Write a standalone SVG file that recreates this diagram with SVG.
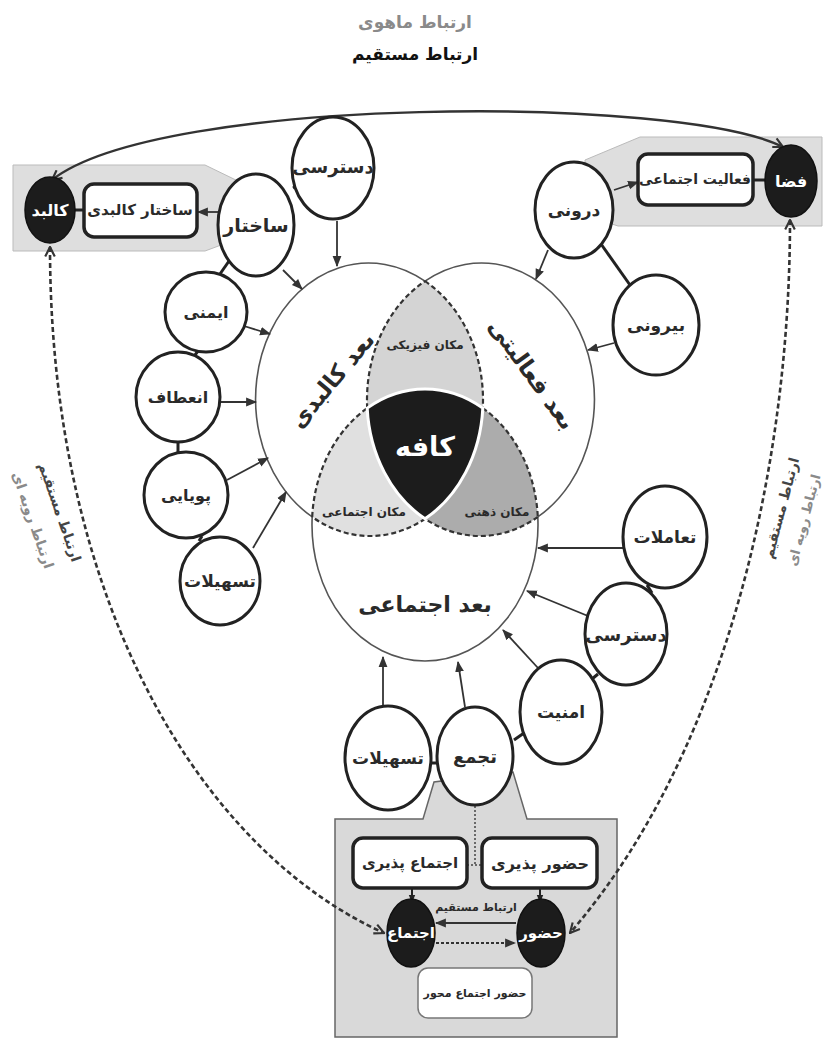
<svg xmlns="http://www.w3.org/2000/svg" width="825" height="1038" viewBox="0 0 825 1038">
<style>
.nd{fill:#fff;stroke:#222;stroke-width:3}
.bx{fill:#fff;stroke:#222;stroke-width:3.5}
.dk{fill:#1c1c1c;stroke:#111;stroke-width:1.5}
.lb{font-family:"DejaVu Sans","Noto Sans",sans-serif;font-weight:bold;text-anchor:middle;dominant-baseline:central;fill:#2a2a2a}
.ar{stroke:#333;stroke-width:1.8;fill:none;marker-end:url(#ah)}
.ln{stroke:#222;stroke-width:3;fill:none}
.dash{stroke:#333;stroke-width:2.2;stroke-dasharray:5 3;fill:none}
.ldash{stroke:#333;stroke-width:2.6;stroke-dasharray:5 3;fill:none;marker-start:url(#av);marker-end:url(#av)}
.out{stroke:#555;stroke-width:1.6;fill:none}
.gr{fill:#dedede;stroke:#bbb;stroke-width:1}
</style>
<defs>
<marker id="ah" viewBox="0 0 10 10" refX="9" refY="5" markerWidth="11" markerHeight="11" markerUnits="userSpaceOnUse" orient="auto"><path d="M0,1 L10,5 L0,9 z" fill="#333"/></marker>
<marker id="av" viewBox="0 0 10 10" refX="9" refY="5" markerWidth="12" markerHeight="12" markerUnits="userSpaceOnUse" orient="auto-start-reverse"><path d="M1,1 L9,5 L1,9" fill="none" stroke="#333" stroke-width="1.8"/></marker>
<marker id="as" viewBox="0 0 10 10" refX="5" refY="5" markerWidth="8" markerHeight="8" markerUnits="userSpaceOnUse" orient="auto"><path d="M0,1 L10,5 L0,9 z" fill="#222"/></marker>
</defs>
<rect width="825" height="1038" fill="#fff"/>

<!-- gray bands -->
<polygon class="gr" points="13,165 205,165 240,182 240,238 205,251 13,251"/>
<polygon class="gr" points="822,137 640,137 585,160 585,215 618,226 822,226"/>
<polygon fill="#d9d9d9" stroke="#666" stroke-width="1.5" points="434,782 423,819 335,819 335,1037 617,1037 617,819 527,819 513,772"/>

<!-- titles -->
<text class="lb" x="415" y="22" font-size="17" style="fill:#8a8a8a">ارتباط ماهوی</text>
<text class="lb" x="415" y="54" font-size="17" style="fill:#111">ارتباط مستقیم</text>

<!-- Venn -->
<g id="venn">
<ellipse cx="370" cy="400" rx="113" ry="136" fill="#fff"/>
<ellipse cx="480" cy="400" rx="113" ry="136" fill="#fff"/>
<ellipse cx="425" cy="525" rx="113" ry="136" fill="#fff"/>
<path d="M425,281.2 A113,136 0 0 1 482.8,408.1 A113,136 0 0 0 367.2,408.1 A113,136 0 0 1 425,281.2 Z" fill="#d4d4d4"/>
<path d="M312.2,516.9 A113,136 0 0 1 367.2,408.1 A113,136 0 0 0 425,518.8 A113,136 0 0 1 312.2,516.9 Z" fill="#e0e0e0"/>
<path d="M482.8,408.1 A113,136 0 0 1 537.8,516.9 A113,136 0 0 1 425,518.8 A113,136 0 0 0 482.8,408.1 Z" fill="#acacac"/>
<path class="out" d="M425,281.2 A113,136 0 1 0 312.2,516.9"/>
<path class="out" d="M425,281.2 A113,136 0 1 1 537.8,516.9"/>
<path class="out" d="M312.2,516.9 A113,136 0 1 0 537.8,516.9"/>
<path class="dash" d="M425,281.2 A113,136 0 0 1 482.8,408.1"/>
<path class="dash" d="M367.2,408.1 A113,136 0 0 1 425,281.2"/>
<path class="dash" d="M312.2,516.9 A113,136 0 0 1 367.2,408.1"/>
<path class="dash" d="M425,518.8 A113,136 0 0 1 312.2,516.9"/>
<path class="dash" d="M482.8,408.1 A113,136 0 0 1 537.8,516.9"/>
<path class="dash" d="M537.8,516.9 A113,136 0 0 1 425,518.8"/>
<path d="M367.2,408.1 A113,136 0 0 1 482.8,408.1 A113,136 0 0 1 425,518.8 A113,136 0 0 1 367.2,408.1 Z" fill="#1c1c1c" stroke="#fff" stroke-width="3"/>
<text class="lb" x="425" y="446" font-size="27" style="fill:#fff">کافه</text>
<text class="lb" x="425" y="345" font-size="12">مکان فیزیکی</text>
<text class="lb" x="364" y="512" font-size="12">مکان اجتماعی</text>
<text class="lb" x="497" y="512" font-size="12">مکان ذهنی</text>
<text class="lb" font-size="23" transform="translate(332,380) rotate(-50)">بعد کالبدی</text>
<text class="lb" font-size="23" transform="translate(532,374) rotate(54)">بعد فعالیتی</text>
<text class="lb" x="425" y="604" font-size="22">بعد اجتماعی</text>
</g>

<!-- connectors -->
<g id="connectors">
<path d="M52,180 C160,95 680,95 783,147" stroke="#333" stroke-width="2.4" fill="none" marker-start="url(#av)" marker-end="url(#av)"/>
<path class="ldash" d="M50,247 C50,600 200,850 384,933"/>
<path class="ldash" d="M790,220 C790,480 720,760 570,933"/>
<line class="ln" x1="75" y1="210" x2="84" y2="210"/>
<line class="ln" x1="753" y1="180" x2="765" y2="180"/>
<line class="ar" x1="218" y1="212" x2="198" y2="212"/>
<line class="ar" x1="614" y1="190" x2="638" y2="182"/>
<line class="ar" x1="337" y1="221" x2="337" y2="266"/>
<line class="ar" x1="283" y1="270" x2="302" y2="289"/>
<line class="ar" x1="244" y1="326" x2="270" y2="334"/>
<line class="ar" x1="220" y1="402" x2="256" y2="402"/>
<line class="ar" x1="227" y1="480" x2="268" y2="458"/>
<line class="ar" x1="253" y1="548" x2="286" y2="492"/>
<line class="ar" x1="548" y1="250" x2="536" y2="279"/>
<line class="ar" x1="614" y1="343" x2="588" y2="350"/>
<line class="ar" x1="623" y1="548" x2="538" y2="548"/>
<line class="ar" x1="588" y1="616" x2="527" y2="591"/>
<line class="ar" x1="538" y1="668" x2="503" y2="630"/>
<line class="ar" x1="383" y1="707" x2="383" y2="657"/>
<line class="ar" x1="465" y1="707" x2="458" y2="662"/>
<line class="ln" x1="293" y1="188" x2="300" y2="184"/>
<line class="ln" x1="229" y1="261" x2="220" y2="274"/>
<line class="ln" x1="198" y1="351" x2="195" y2="355"/>
<line class="ln" x1="178" y1="441" x2="178" y2="453"/>
<line class="ln" x1="202" y1="536" x2="199" y2="541"/>
<line class="ln" x1="601" y1="244" x2="630" y2="285"/>
<line class="ln" x1="647" y1="585" x2="652" y2="593"/>
<line class="ln" x1="592" y1="679" x2="598" y2="674"/>
<line class="ln" x1="514" y1="740" x2="524" y2="733"/>
<line class="ln" x1="430" y1="763" x2="438" y2="763"/>
<path d="M475,806 L475,865 M467,865 L483,865" stroke="#444" stroke-width="1.5" stroke-dasharray="2 2" fill="none"/>
<line x1="412" y1="888" x2="412" y2="899" stroke="#222" stroke-width="2" marker-end="url(#as)"/>
<line x1="540" y1="888" x2="540" y2="899" stroke="#222" stroke-width="2" marker-end="url(#as)"/>
<line class="ar" x1="516" y1="923" x2="436" y2="923"/>
<line x1="436" y1="943" x2="515" y2="943" stroke="#333" stroke-width="2" stroke-dasharray="3 2" marker-end="url(#ah)"/>
<text class="lb" x="476" y="907" font-size="11">ارتباط مستقیم</text>
<text class="lb" font-size="14" style="fill:#444" transform="translate(60,512) rotate(71)">ارتباط مستقیم</text>
<text class="lb" font-size="14" style="fill:#8a8a8a" transform="translate(33,520) rotate(71)">ارتباط رویه ای</text>
<text class="lb" font-size="14" style="fill:#444" transform="translate(781,508) rotate(-75)">ارتباط مستقیم</text>
<text class="lb" font-size="13" style="fill:#8a8a8a" transform="translate(804,520) rotate(-75)">ارتباط رویه ای</text>
</g>

<!-- nodes -->
<g id="n-kalbad"><ellipse class="dk" cx="50" cy="210" rx="25" ry="33"/><text class="lb" x="50" y="210" font-size="16" style="fill:#fff">کالبد</text></g>
<g id="n-faza"><ellipse class="dk" cx="791" cy="181" rx="26" ry="36"/><text class="lb" x="791" y="181" font-size="16" style="fill:#fff">فضا</text></g>
<g id="n-sakhtar-kalbadi"><rect class="bx" x="84" y="184" width="113" height="53" rx="10"/><text class="lb" x="140" y="210" font-size="15">ساختار کالبدی</text></g>
<g id="n-faaliat"><rect class="bx" x="638" y="154" width="115" height="51" rx="10"/><text class="lb" x="695" y="179" font-size="14">فعالیت اجتماعی</text></g>
<g id="n-dastresi1"><ellipse class="nd" cx="333" cy="168" rx="41" ry="51"/><text class="lb" x="333" y="166" font-size="18">دسترسی</text></g>
<g id="n-sakhtar"><ellipse class="nd" cx="256" cy="225" rx="38" ry="51"/><text class="lb" x="256" y="225" font-size="19">ساختار</text></g>
<g id="n-imeni"><ellipse class="nd" cx="206" cy="312" rx="41" ry="40"/><text class="lb" x="206" y="312" font-size="16">ایمنی</text></g>
<g id="n-enetaf"><ellipse class="nd" cx="178" cy="397" rx="42" ry="45"/><text class="lb" x="178" y="397" font-size="16">انعطاف</text></g>
<g id="n-pooyaei"><ellipse class="nd" cx="186" cy="495" rx="42" ry="43"/><text class="lb" x="186" y="495" font-size="16">پویایی</text></g>
<g id="n-tashilat1"><ellipse class="nd" cx="220" cy="581" rx="40" ry="44"/><text class="lb" x="220" y="581" font-size="17">تسهیلات</text></g>
<g id="n-darooni"><ellipse class="nd" cx="574" cy="210" rx="39" ry="48"/><text class="lb" x="574" y="210" font-size="17">درونی</text></g>
<g id="n-birooni"><ellipse class="nd" cx="656" cy="325" rx="43" ry="50"/><text class="lb" x="656" y="325" font-size="17">بیرونی</text></g>
<g id="n-taamolat"><ellipse class="nd" cx="665" cy="537" rx="42" ry="51"/><text class="lb" x="665" y="537" font-size="17">تعاملات</text></g>
<g id="n-dastresi2"><ellipse class="nd" cx="626" cy="634" rx="41" ry="51"/><text class="lb" x="626" y="634" font-size="18">دسترسی</text></g>
<g id="n-amniat"><ellipse class="nd" cx="561" cy="712" rx="41" ry="52"/><text class="lb" x="561" y="712" font-size="17">امنیت</text></g>
<g id="n-tajamo"><ellipse class="nd" cx="475" cy="756" rx="38" ry="49"/><text class="lb" x="475" y="756" font-size="18">تجمع</text></g>
<g id="n-tashilat2"><ellipse class="nd" cx="388" cy="758" rx="43" ry="52"/><text class="lb" x="388" y="758" font-size="17">تسهیلات</text></g>
<g id="n-ejtema-paziri"><rect class="bx" x="353" y="838" width="114" height="50" rx="10"/><text class="lb" x="410" y="863" font-size="15">اجتماع پذیری</text></g>
<g id="n-hozur-paziri"><rect class="bx" x="482" y="838" width="115" height="50" rx="10"/><text class="lb" x="540" y="863" font-size="16">حضور پذیری</text></g>
<g id="n-ejtema"><ellipse class="dk" cx="411" cy="933" rx="24" ry="34"/><text class="lb" x="411" y="933" font-size="15" style="fill:#fff">اجتماع</text></g>
<g id="n-hozur"><ellipse class="dk" cx="541" cy="933" rx="24" ry="34"/><text class="lb" x="541" y="933" font-size="15" style="fill:#fff">حضور</text></g>
<g id="n-mehvar"><rect x="418" y="968" width="114" height="50" rx="10" fill="#fff" stroke="#777" stroke-width="1.5"/><text class="lb" x="475" y="993" font-size="11">حضور اجتماع محور</text></g>
</svg>
